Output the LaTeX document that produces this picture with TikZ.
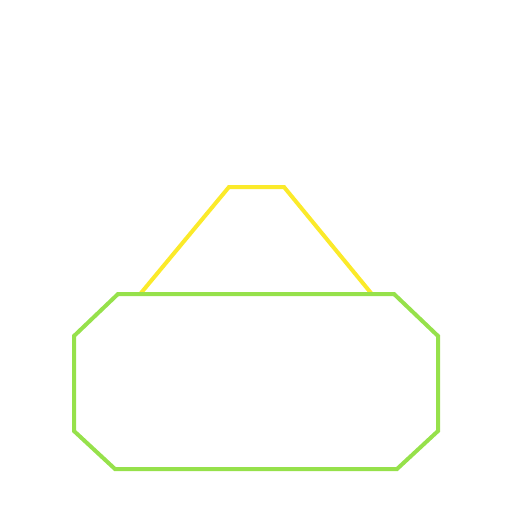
\documentclass[tikz,border=0pt]{standalone}
\definecolor{ylw}{RGB}{251,234,42}
\definecolor{grn}{RGB}{150,225,75}
\begin{document}
\begin{tikzpicture}[x=1pt,y=-1pt,
  yline/.style={draw=ylw,line width=4pt,line join=miter},
  gline/.style={draw=grn,line width=4pt,line join=miter}]
\useasboundingbox (0,0) rectangle (512,512);
\coordinate (y1) at (141,293);
\coordinate (y2) at (229,187);
\coordinate (y3) at (284,187);
\coordinate (y4) at (371,293);
\draw[yline] (y1) -- (y2) -- (y3) -- (y4);
\coordinate (g1) at (118,294);
\coordinate (g2) at (394,294);
\coordinate (g3) at (438,336);
\coordinate (g4) at (438,431);
\coordinate (g5) at (397,469);
\coordinate (g6) at (115,469);
\coordinate (g7) at (74,431);
\coordinate (g8) at (74,336);
\draw[gline] (g1) -- (g2) -- (g3) -- (g4) -- (g5) -- (g6) -- (g7) -- (g8) -- cycle;
\end{tikzpicture}
\end{document}
